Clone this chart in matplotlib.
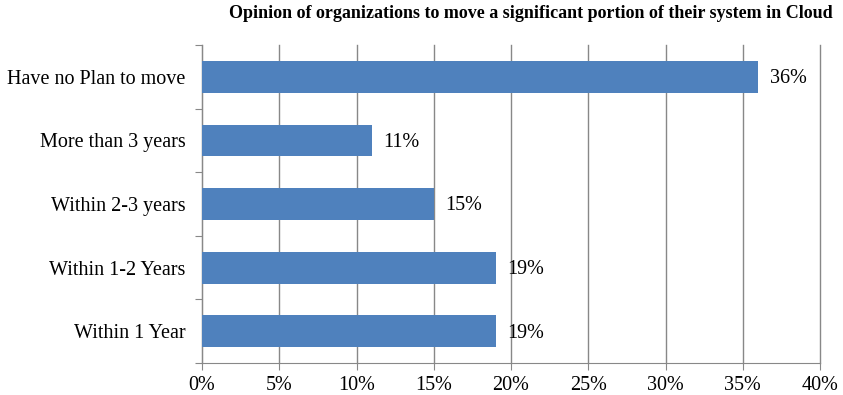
import matplotlib.pyplot as plt
import numpy as np

# categories from bottom to top
categories = ['Within 1 Year', 'Within 1-2 Years', 'Within 2-3 years',
              'More than 3 years', 'Have no Plan to move']
shares = [19, 19, 15, 11, 36]

plt.rcParams['font.family'] = ['Liberation Serif', 'DejaVu Serif']

fig = plt.figure(figsize=(8.43, 3.95), dpi=100)
ax = fig.add_axes([202 / 843, 1 - 363 / 395, 618 / 843, 318 / 395])

y = np.arange(len(categories))
ax.barh(y, shares, height=0.5, color='#4F81BD', zorder=3)

# value labels next to bars
for yi, v in zip(y, shares):
    ax.text(v + 0.75, yi - 0.03, f'{v}%', va='center', ha='left', fontsize=14.5)

ax.set_xlim(0, 40)
ax.set_ylim(-0.5, len(categories) - 0.5)
ax.set_xticks(np.arange(0, 41, 5))
ax.set_xticklabels([f'{t}%' for t in range(0, 41, 5)], fontsize=14.5)

# category labels sit between boundary ticks
ax.set_yticks(np.arange(-0.5, len(categories), 1))
ax.set_yticklabels([])
ax.set_yticks(y, minor=True)
ax.set_yticklabels(categories, minor=True, fontsize=14.5)
ax.tick_params(axis='y', which='minor', length=0, pad=12)
ax.tick_params(axis='y', which='major', length=5, color='#888888', direction='out')
ax.tick_params(axis='x', length=5, color='#888888', direction='out', pad=4)

ax.grid(axis='x', color='#888888', linewidth=1, zorder=0)
for gl in ax.get_xgridlines():
    gl.set_clip_on(False)
for s in ['top', 'right']:
    ax.spines[s].set_visible(False)
for s in ['left', 'bottom']:
    ax.spines[s].set_color('#888888')

fig.text(531 / 843, 1 - 14 / 395,
         'Opinion of organizations to move a significant portion of their system in Cloud',
         ha='center', va='center', fontsize=13, fontweight='bold')

fig.savefig('out.png', dpi=100)
